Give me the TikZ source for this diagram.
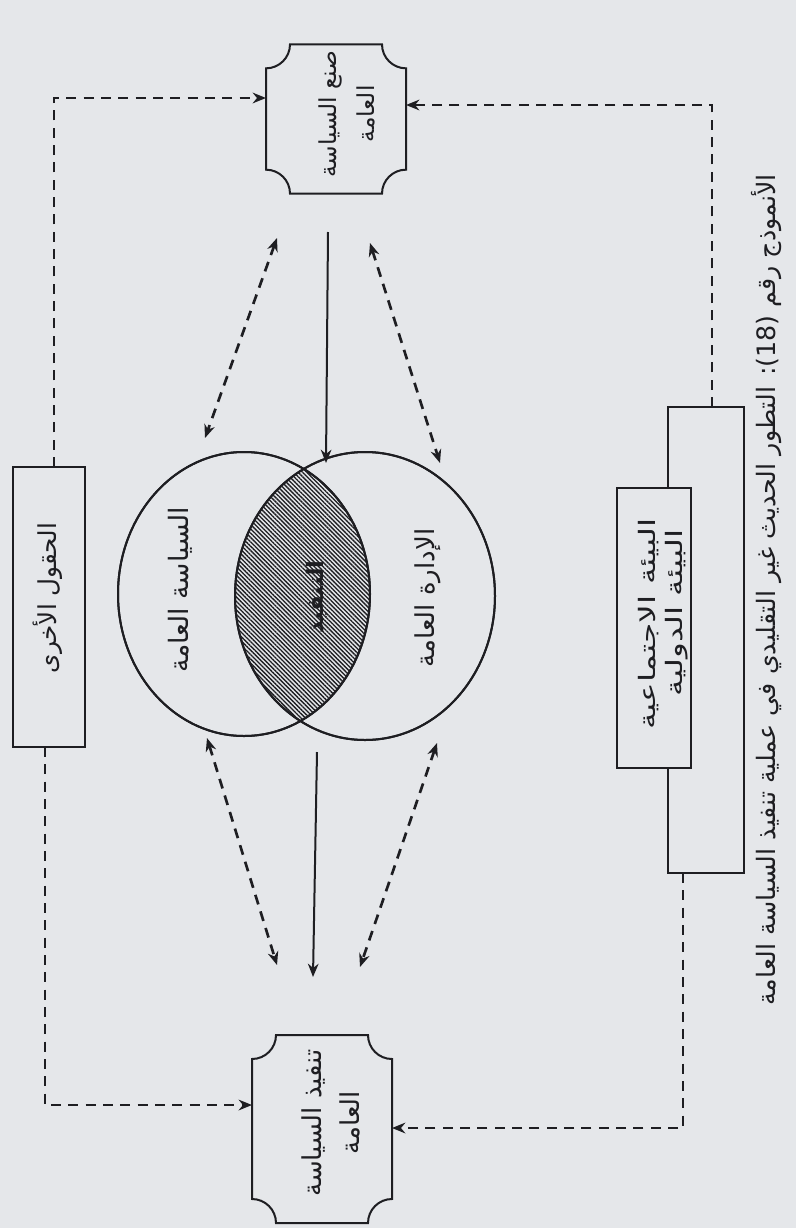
\documentclass[tikz,border=0pt]{standalone}
\usepackage{fontspec}
\usetikzlibrary{arrows.meta,shapes.geometric,patterns.meta,calc}
\TeXXeTstate=1
\newfontfamily\arabicfont[Script=Arabic]{DejaVu Sans}
\newfontfamily\arabicwide[Script=Arabic,FakeStretch=1.45]{DejaVu Sans}
\definecolor{paper}{RGB}{229,231,234}
\definecolor{ink}{RGB}{30,30,34}
\newcommand{\NotchOutline}[2]{%
  \draw[draw=ink, line width=1.5pt]
  ($(#1.north west)+(0,#2)$) -- ($(#1.south west)+(0,-#2)$)
  .. controls ($(#1.south west)+(0.5523*#2,-#2)$) and ($(#1.south west)+(#2,-0.5523*#2)$) .. ($(#1.south west)+(#2,0)$)
  -- ($(#1.south east)+(-#2,0)$)
  .. controls ($(#1.south east)+(-#2,-0.5523*#2)$) and ($(#1.south east)+(-0.5523*#2,-#2)$) .. ($(#1.south east)+(0,-#2)$)
  -- ($(#1.north east)+(0,#2)$)
  .. controls ($(#1.north east)+(-0.5523*#2,#2)$) and ($(#1.north east)+(-#2,0.5523*#2)$) .. ($(#1.north east)+(-#2,0)$)
  -- ($(#1.north west)+(#2,0)$)
  .. controls ($(#1.north west)+(#2,0.5523*#2)$) and ($(#1.north west)+(0.5523*#2,#2)$) .. ($(#1.north west)+(0,#2)$)
  -- cycle;}
\begin{document}
\begin{tikzpicture}[x=0.75pt,y=-0.75pt,
  every node/.style={inner sep=0pt, outer sep=0pt},
  boxnode/.style={rectangle, draw=ink, line width=1.5pt, fill=paper},
  shapenode/.style={rectangle, draw=none},
  ar/.style={font=\arabicfont\fontsize{18.5}{30}\selectfont, text=ink, rotate=90, align=center},
  arw/.style={font=\arabicwide\fontsize{17}{22}\selectfont, text=ink, rotate=90, align=center},
  solidarr/.style={draw=ink, line width=1.5pt, -{Stealth[length=10pt,width=8pt]}},
  dasharr/.style={draw=ink, line width=2pt, dash pattern=on 7.5pt off 5.5pt, -{Stealth[length=10pt,width=8pt]}},
  dblarr/.style={draw=ink, line width=2pt, dash pattern=on 7.5pt off 5.5pt, {Stealth[length=10pt,width=8pt]}-{Stealth[length=10pt,width=8pt]}},
  circ/.style={ellipse, draw=ink, line width=1.5pt}
]
\fill[paper] (0,0) rectangle (796,1228);
\useasboundingbox (0,0) rectangle (796,1228);

% notched boxes
\node[shapenode, minimum width=105pt, minimum height=112pt] (make) at (336,119) {};
\node[shapenode, minimum width=105pt, minimum height=141pt] (impl) at (322,1129) {};
\NotchOutline{make}{24}
\NotchOutline{impl}{24}
\node[ar, font=\arabicfont\fontsize{17.5}{29}\selectfont] (makeT) at (347,114) {\beginR صنع السياسة\endR\\\beginR العامة\endR};
\node[ar, font=\arabicfont\fontsize{19.5}{28}\selectfont] (implT) at (331,1123) {\beginR تنفيذ السياسة\endR\\\beginR العامة\endR};

% left box
\node[boxnode, minimum width=54pt, minimum height=210pt] (other) at (49,607) {};
\node[ar] (otherT) at (48,598) {\beginR الحقول الأخرى\endR};

% right boxes
\node[boxnode, minimum width=57pt, minimum height=349.5pt] (intl) at (706,640) {};
\node[boxnode, minimum width=55.5pt, minimum height=210pt] (soc) at (654,628) {};
\node[arw] (socT) at (649,624) {\beginR البيئة الاجتماعية\endR};
\node[arw] (intlT) at (677,613) {\beginR البيئة الدولية\endR};

% circles
\node[circ, minimum width=189pt, minimum height=213pt] (pol) at (244,594) {};
\node[circ, minimum width=195pt, minimum height=216pt] (adm) at (365,596) {};
\begin{scope}
  \clip (244,594) ellipse [x radius=126, y radius=142];
  \fill[pattern={Lines[angle=-45,distance=2.3pt,line width=1pt]}, pattern color=ink]
    (365,596) ellipse [x radius=130, y radius=144];
\end{scope}
\node[circ, minimum width=189pt, minimum height=213pt] at (pol.center) {};
\node[circ, minimum width=195pt, minimum height=216pt] at (adm.center) {};
\node[ar, font=\arabicfont\fontsize{20}{28}\selectfont] (polT) at (180,590) {\beginR السياسة العامة\endR};
\node[ar, font=\arabicfont\fontsize{19.5}{28}\selectfont] (admT) at (428,598) {\beginR الإدارة العامة\endR};
\node[ar, font=\arabicfont\bfseries\fontsize{17}{20}\selectfont] (lensT) at (317,597) {\beginR التنفيذ\endR};

% title
\node[ar, font=\arabicfont\fontsize{19}{24}\selectfont] (title) at (766,590)
  {\beginR الأنموذج رقم \beginL(18)\endL: التطور الحديث غير التقليدي في عملية تنفيذ السياسة العامة\endR};

% free arrow ends
\coordinate (s1a) at (328,232); \coordinate (s1b) at (326,463);
\coordinate (s2a) at (317,752); \coordinate (s2b) at (313,977);
\coordinate (aA1) at (277,238); \coordinate (aA2) at (205,438);
\coordinate (aB1) at (370,243); \coordinate (aB2) at (440,463);
\coordinate (aC1) at (207,738); \coordinate (aC2) at (277,965);
\coordinate (aD1) at (437,743); \coordinate (aD2) at (360,967);
\draw[solidarr] (s1a) -- (s1b);
\draw[solidarr] (s2a) -- (s2b);
\draw[dblarr] (aA1) -- (aA2);
\draw[dblarr] (aB1) -- (aB2);
\draw[dblarr] (aC1) -- (aC2);
\draw[dblarr] (aD1) -- (aD2);

% L-shaped dashed connectors
\coordinate (c1) at (54,98);
\coordinate (c2) at (45,1105);
\coordinate (c3) at (712,105);
\coordinate (c4) at (683,1128);
\draw[dasharr] (other.north -| c1) -- (c1) -- (c1 -| make.west);
\draw[dasharr] (other.south -| c2) -- (c2) -- (c2 -| impl.west);
\draw[dasharr] (intl.north -| c3) -- (c3) -- (c3 -| make.east);
\draw[dasharr] (intl.south -| c4) -- (c4) -- (c4 -| impl.east);
\end{tikzpicture}
\end{document}
